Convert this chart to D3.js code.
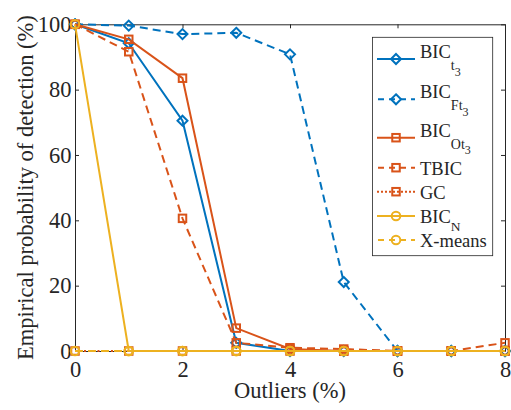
<!DOCTYPE html>
<html>
<head>
<meta charset="utf-8">
<script src="https://cdn.jsdelivr.net/npm/d3@7"></script>
<style>
  html, body { margin: 0; padding: 0; background: #fff; }
</style>
</head>
<body>
<svg id="chart" width="511" height="410"></svg>
<script>
// Outlier percentage on the x axis
const outliers = [0, 1, 2, 3, 4, 5, 6, 7, 8];

// Empirical probability of detection (%) per method
const bicT3  = [100, 94.2, 70.5, 2.5, 0, 0, 0, 0, 0];
const bicFt3 = [100, 99.6, 97.0, 97.4, 90.8, 21.1, 0, 0, 0];
const bicOt3 = [100, 95.4, 83.5, 7.0, 0.6, 0, 0, 0, 0];
const tbic   = [100, 91.6, 40.6, 2.5, 1.0, 0.6, 0, 0, 2.5];
const gc     = [0, 0, 0, 0, 0, 0, 0, 0, 0];
const bicN   = [100, 0, 0, 0, 0, 0, 0, 0, 0];
const xmeans = [0, 0, 0, 0, 0, 0, 0, 0, 0];

const xTicks = [0, 2, 4, 6, 8];
const yTicks = [0, 20, 40, 60, 80, 100];

const blue = "#0072BD", orange = "#D95319", yellow = "#EDB120";

const series = [
  { values: bicT3,  color: blue,   dash: null,  marker: "diamond", label: ["BIC", "t", "3"] },
  { values: bicFt3, color: blue,   dash: "8,5", marker: "diamond", label: ["BIC", "Ft", "3"] },
  { values: bicOt3, color: orange, dash: null,  marker: "square",  label: ["BIC", "Ot", "3"] },
  { values: tbic,   color: orange, dash: "8,5", marker: "square",  label: ["TBIC"] },
  { values: gc,     color: orange, dash: "2,2.5", marker: "square", label: ["GC"] },
  { values: bicN,   color: yellow, dash: null,  marker: "circle",  label: ["BIC", "N"] },
  { values: xmeans, color: yellow, dash: "8,5", marker: "circle",  label: ["X-means"] }
];

const FONT = "'Liberation Serif', 'DejaVu Serif', serif";
const svg = d3.select("#chart").attr("font-family", FONT);
const plotLeft = 75, plotRight = 505, plotTop = 24.3, plotBottom = 351;

const x = d3.scaleLinear().domain([0, 8]).range([plotLeft, plotRight]);
const y = d3.scaleLinear().domain([0, 100]).range([plotBottom, plotTop]);

const axisColor = "#262626";
const fontSize = 22.5;

// Axes with inward ticks on all four sides
const gB = svg.append("g").attr("transform", `translate(0,${plotBottom})`)
  .call(d3.axisBottom(x).tickValues(xTicks).tickFormat(d3.format("d")).tickSizeInner(-4).tickSizeOuter(0).tickPadding(10));
const gL = svg.append("g").attr("transform", `translate(${plotLeft},0)`)
  .call(d3.axisLeft(y).tickValues(yTicks).tickFormat(d3.format("d")).tickSizeInner(-4).tickSizeOuter(0).tickPadding(3.5));
const gT = svg.append("g").attr("transform", `translate(0,${plotTop})`)
  .call(d3.axisTop(x).tickValues(xTicks).tickFormat("").tickSizeInner(-4).tickSizeOuter(0));
const gR = svg.append("g").attr("transform", `translate(${plotRight},0)`)
  .call(d3.axisRight(y).tickValues(yTicks).tickFormat("").tickSizeInner(-4).tickSizeOuter(0));

[gB, gL, gT, gR].forEach(g => {
  g.attr("font-family", FONT).attr("font-size", fontSize);
  g.selectAll("path.domain").attr("stroke", axisColor).attr("stroke-width", 1);
  g.selectAll(".tick line").attr("stroke", axisColor).attr("stroke-width", 1);
  g.selectAll(".tick text").attr("fill", axisColor);
});

// Axis titles
svg.append("text")
  .attr("x", (plotLeft + plotRight) / 2).attr("y", 398)
  .attr("text-anchor", "middle").attr("fill", axisColor)
  .attr("font-size", fontSize)
  .text("Outliers (%)");

svg.append("text")
  .attr("transform", `translate(33,${(plotTop + plotBottom) / 2}) rotate(-90)`)
  .attr("text-anchor", "middle").attr("fill", axisColor)
  .attr("font-size", fontSize)
  .text("Empirical probability of detection (%)");

// Marker shapes
function drawMarker(g, kind, cx, cy, color) {
  if (kind === "diamond") {
    const r = 5;
    g.append("path")
      .attr("d", `M${cx},${cy - r}L${cx + r},${cy}L${cx},${cy + r}L${cx - r},${cy}Z`)
      .attr("fill", "none").attr("stroke", color).attr("stroke-width", 2);
  } else if (kind === "square") {
    const s = 7.5;
    g.append("rect")
      .attr("x", cx - s / 2).attr("y", cy - s / 2).attr("width", s).attr("height", s)
      .attr("fill", "none").attr("stroke", color).attr("stroke-width", 2);
  } else {
    g.append("circle")
      .attr("cx", cx).attr("cy", cy).attr("r", 4.3)
      .attr("fill", "none").attr("stroke", color).attr("stroke-width", 2);
  }
}

// Series lines and markers
const line = d3.line().x((d, i) => x(outliers[i])).y(d => y(d));
const plot = svg.append("g");
series.forEach(s => {
  const g = plot.append("g");
  g.append("path")
    .attr("d", line(s.values))
    .attr("fill", "none").attr("stroke", s.color).attr("stroke-width", 2)
    .attr("stroke-dasharray", s.dash);
  s.values.forEach((v, i) => drawMarker(g, s.marker, x(outliers[i]), y(v), s.color));
});

// Legend
const legend = svg.append("g");
legend.append("rect")
  .attr("x", 372.5).attr("y", 37.3).attr("width", 120.2).attr("height", 218.4)
  .attr("fill", "#fff").attr("stroke", axisColor).attr("stroke-width", 0.8);

const rowY = [59, 99.3, 137.7, 167.7, 191.7, 216, 240];
const lfs = 18.5;
series.forEach((s, i) => {
  const ly = rowY[i];
  const g = legend.append("g");
  g.append("line")
    .attr("x1", 377).attr("x2", 415).attr("y1", ly).attr("y2", ly)
    .attr("stroke", s.color).attr("stroke-width", 2)
    .attr("stroke-dasharray", s.dash ? (s.dash === "2,2.5" ? "2,2" : "6,5") : null)
    .attr("stroke-dashoffset", s.dash === "8,5" ? -1 : 0);
  drawMarker(g, s.marker, 396, ly, s.color);

  const parts = s.label;
  const baseline = parts.length === 3 ? ly - 1 : ly + 7;
  const t = g.append("text").attr("x", 420).attr("y", baseline)
    .attr("fill", axisColor).attr("font-size", lfs);
  t.append("tspan").text(parts[0]);
  if (parts.length === 2) {
    t.append("tspan").attr("dy", 8).attr("font-size", 13.5).text(parts[1]);
  } else if (parts.length === 3) {
    t.append("tspan").attr("dy", 12).attr("font-size", 14).text(parts[1]);
    t.append("tspan").attr("dy", 5.5).attr("font-size", 12).text(parts[2]);
  }
});
</script>
</body>
</html>
